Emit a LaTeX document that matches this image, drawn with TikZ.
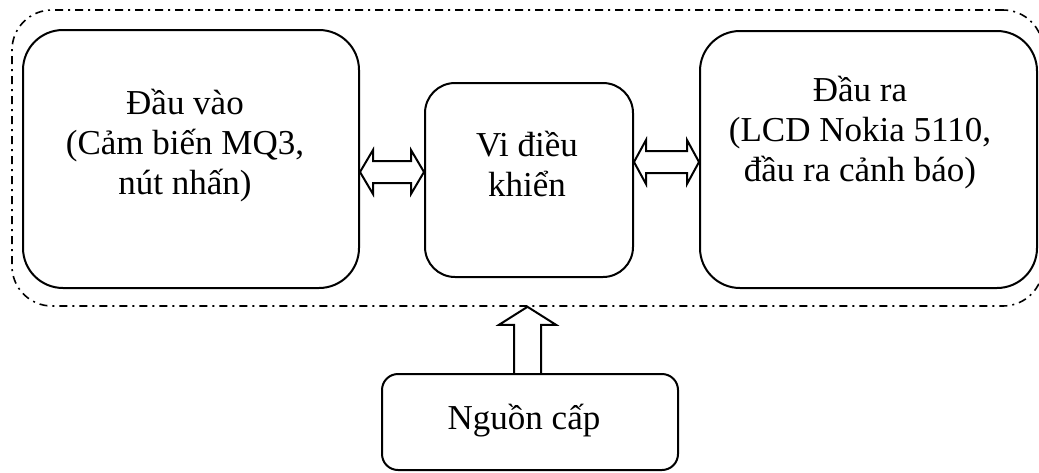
\documentclass[tikz,border=0pt]{standalone}
\usepackage{fontspec}
\setmainfont{Liberation Serif}
\usetikzlibrary{calc}
\begin{document}
\begin{tikzpicture}[x=0.5pt,y=-0.5pt,
  box/.style={draw, line width=1pt, inner sep=0pt},
  frame/.style={draw, line width=0.8pt, inner sep=0pt, rounded corners=20pt,
    dash pattern=on 4pt off 2.5pt on 1pt off 2.5pt},
  lbl/.style={font=\fontsize{17.5}{20}\selectfont, align=center, inner sep=0pt},
  hollow/.style={draw, line width=1pt, line join=miter}]
\useasboundingbox (0,0) rectangle (1039,472);
\node[frame, minimum width=515.5pt, minimum height=148pt] (F) at (527.5,158) {};
\node[box, rounded corners=20pt, minimum width=168pt, minimum height=129pt] (L) at (191,159) {};
\node[box, rounded corners=15pt, minimum width=104pt, minimum height=97pt] (M) at (529,180) {};
\node[box, rounded corners=20pt, minimum width=168.5pt, minimum height=128.5pt] (R) at (868.5,159.5) {};
\node[box, rounded corners=8pt, minimum width=148pt, minimum height=48pt] (B) at (530,422) {};
\node[lbl] (Lt) at (185,146) {Đầu vào\\(Cảm biến MQ3,\\nút nhấn)};
\node[lbl] (Mt) at (527,164) {Vi điều\\khiển};
\node[lbl] (Rt) at (860,133) {Đầu ra\\(LCD Nokia 5110,\\đầu ra cảnh báo)};
\node[lbl] (Bt) at (524,421) {Nguồn cấp};
% left double arrow
\coordinate (p1) at (L.east |- 0,172);
\coordinate (p2) at (M.west |- 0,172);
\draw[hollow] (p1) -- ++(13,-22) -- ++(0,11) -- ($(p2)+(-13,-11)$) -- ++(0,-11) -- (p2)
  -- ++(-13,22) -- ++(0,-11) -- ($(p1)+(13,11)$) -- ++(0,11) -- cycle;
% right double arrow
\coordinate (q1) at (M.east |- 0,162);
\coordinate (q2) at (R.west |- 0,162);
\draw[hollow] (q1) -- ++(12,-22) -- ++(0,11) -- ($(q2)+(-12,-11)$) -- ++(0,-11) -- (q2)
  -- ++(-12,22) -- ++(0,-11) -- ($(q1)+(12,11)$) -- ++(0,11) -- cycle;
% up arrow
\coordinate (u0) at ($(B.north)+(-2.5,0)$);
\coordinate (ut) at (u0 |- F.south);
\draw[hollow] ($(u0)+(-13.5,0)$) -- ($(ut)+(-13.5,18)$) -- ++(-15,0) -- (ut)
  -- ($(ut)+(28.5,18)$) -- ++(-15,0) -- ($(u0)+(13.5,0)$);
\end{tikzpicture}
\end{document}
